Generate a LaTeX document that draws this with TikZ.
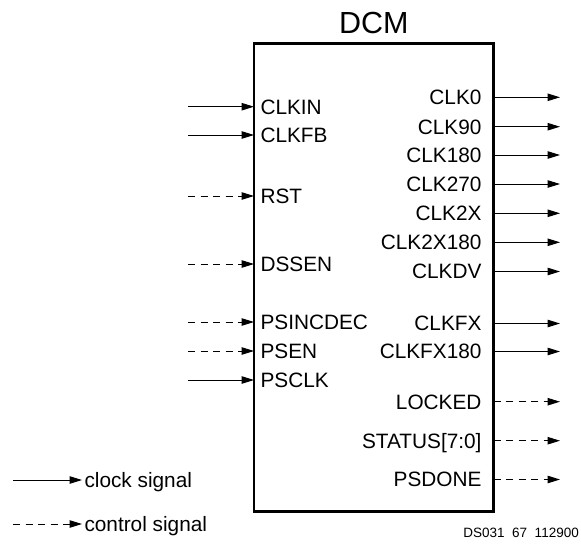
\documentclass[tikz,border=0pt]{standalone}
\usepackage{fontspec}
\setmainfont{Liberation Sans}
\usetikzlibrary{arrows.meta,positioning}

\tikzset{
	clksig/.style={-{Triangle[length=12.5pt,width=7.5pt]}, line width=1pt},
	ctlsig/.style={clksig, dash pattern=on 7pt off 5.5pt},
	inport/.style={anchor=west, inner xsep=6.5pt, inner ysep=0pt, outer sep=0pt, text height=14.9pt, text depth=0pt},
	outport/.style={anchor=east, inner xsep=12pt, inner ysep=0pt, outer sep=0pt, text height=14.9pt, text depth=0pt}
}

\begin{document}
\begin{tikzpicture}[x=1pt,y=-1pt,font=\fontsize{20.8}{24}\selectfont]
			\useasboundingbox (0,0) rectangle (581,544);
			\node[draw, line width=2.4pt, minimum width=239.5pt, minimum height=468pt, inner sep=0pt, outer sep=0pt] (dcm) at (373.75,277.5) {};
			\node[above=9.5pt of dcm.north, inner sep=0pt, font=\fontsize{30.5}{34}\selectfont, text height=21.8pt, text depth=0pt] (title) {DCM};

			\node[inport] (clkin) at (254,106.7) {CLKIN};
			\node[inport] (clkfb) at (254,135) {CLKFB};
			\node[inport] (rst) at (254,196) {RST};
			\node[inport] (dssen) at (254,264) {DSSEN};
			\node[inport] (psincdec) at (254,322) {PSINCDEC};
			\node[inport] (psen) at (254,351) {PSEN};
			\node[inport] (psclk) at (254,380) {PSCLK};
			\coordinate (clkin-src) at (188,106.7);
			\coordinate (clkfb-src) at (188,135);
			\coordinate (rst-src) at (188,196);
			\coordinate (dssen-src) at (188,264);
			\coordinate (psincdec-src) at (188,322);
			\coordinate (psen-src) at (188,351);
			\coordinate (psclk-src) at (188,380);
			\draw[clksig] (clkin-src) -- (clkin.west);
			\draw[clksig] (clkfb-src) -- (clkfb.west);
			\draw[ctlsig] (rst-src) -- (rst.west);
			\draw[ctlsig] (dssen-src) -- (dssen.west);
			\draw[ctlsig] (psincdec-src) -- (psincdec.west);
			\draw[ctlsig] (psen-src) -- (psen.west);
			\draw[clksig] (psclk-src) -- (psclk.west);

			\node[outport] (clk0) at (493.5,97.3) {CLK0};
			\node[outport] (clk90) at (493.5,126.7) {CLK90};
			\node[outport] (clk180) at (493.5,155) {CLK180};
			\node[outport] (clk270) at (493.5,184) {CLK270};
			\node[outport] (clk2x) at (493.5,213.3) {CLK2X};
			\node[outport] (clk2x180) at (493.5,242.3) {CLK2X180};
			\node[outport] (clkdv) at (493.5,271.5) {CLKDV};
			\node[outport] (clkfx) at (493.5,323.5) {CLKFX};
			\node[outport] (clkfx180) at (493.5,351.5) {CLKFX180};
			\node[outport] (locked) at (493.5,401.7) {LOCKED};
			\node[outport] (status) at (493.5,440.7) {STATUS[7:0]};
			\node[outport] (psdone) at (493.5,479.5) {PSDONE};
			\coordinate (clk0-dst) at (560,97.3);
			\coordinate (clk90-dst) at (560,126.7);
			\coordinate (clk180-dst) at (560,155);
			\coordinate (clk270-dst) at (560,184);
			\coordinate (clk2x-dst) at (560,213.3);
			\coordinate (clk2x180-dst) at (560,242.3);
			\coordinate (clkdv-dst) at (560,271.5);
			\coordinate (clkfx-dst) at (560,323.5);
			\coordinate (clkfx180-dst) at (560,351.5);
			\coordinate (locked-dst) at (560,401.7);
			\coordinate (status-dst) at (560,440.7);
			\coordinate (psdone-dst) at (560,479.5);
			\draw[clksig] (clk0.east) -- (clk0-dst);
			\draw[clksig] (clk90.east) -- (clk90-dst);
			\draw[clksig] (clk180.east) -- (clk180-dst);
			\draw[clksig] (clk270.east) -- (clk270-dst);
			\draw[clksig] (clk2x.east) -- (clk2x-dst);
			\draw[clksig] (clk2x180.east) -- (clk2x180-dst);
			\draw[clksig] (clkdv.east) -- (clkdv-dst);
			\draw[clksig] (clkfx.east) -- (clkfx-dst);
			\draw[clksig] (clkfx180.east) -- (clkfx180-dst);
			\draw[ctlsig] (locked.east) -- (locked-dst);
			\draw[ctlsig] (status.east) -- (status-dst);
			\draw[ctlsig] (psdone.east) -- (psdone-dst);

			\node[inport, inner xsep=2.5pt] (clkleg) at (82,480) {clock signal};
			\node[inport, inner xsep=2.5pt] (ctlleg) at (82,524) {control signal};
			\coordinate (clkleg-src) at (13,480);
			\coordinate (ctlleg-src) at (13,524);
			\draw[clksig] (clkleg-src) -- (clkleg.west);
			\draw[ctlsig] (ctlleg-src) -- (ctlleg.west);

			\node[anchor=east, inner sep=0pt, font=\fontsize{13.5}{16}\selectfont] (docid) at (579,533) {DS031~~67~~112900};
		\end{tikzpicture}
\end{document}
